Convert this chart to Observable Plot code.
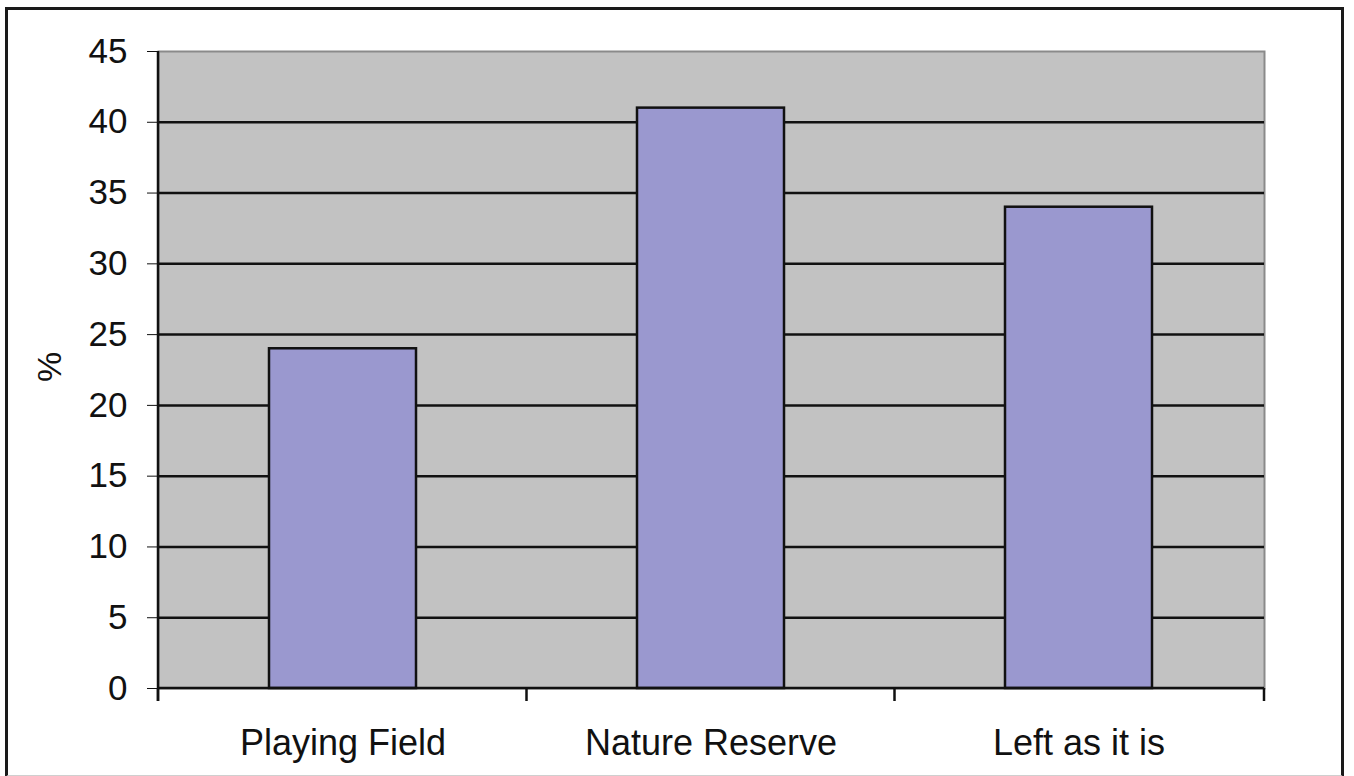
<!DOCTYPE html>
<html>
<head>
<meta charset="utf-8">
<script src="https://cdn.jsdelivr.net/npm/d3@7"></script>
<script src="https://cdn.jsdelivr.net/npm/@observablehq/plot@0.6"></script>
<style>
  html, body { margin: 0; padding: 0; background: #fff; }
  #wrap { position: relative; width: 1354px; height: 776px; overflow: hidden; }
  #border { position: absolute; left: 5px; top: 7px; width: 1339px; height: 770px;
            border: 3px solid #1a1a1a; border-bottom: 2px solid #cfcfcf; box-sizing: border-box; pointer-events: none; }
  #chart { position: absolute; left: 0; top: 0; }
</style>
</head>
<body>
<div id="wrap"><div id="chart"></div><div id="border"></div></div>
<script>
const categories = ["Playing Field", "Nature Reserve", "Left as it is"];
const values = [24, 41, 34];
const yTicks = [0, 5, 10, 15, 20, 25, 30, 35, 40, 45];
const gridValues = [5, 10, 15, 20, 25, 30, 35, 40];
const yLabel = "%";

const data = categories.map((c, i) => ({category: c, value: values[i]}));

function axesMark(index, scales, values_, dims) {
  const x = scales.x;
  const bw = x.bandwidth ? x.bandwidth() : 0;
  const centers = categories.map(c => x(c) + bw / 2);
  const left = dims.marginLeft, right = dims.width - dims.marginRight;
  const top = dims.marginTop, bottom = dims.height - dims.marginBottom;
  const xs = [left, ...d3.pairs(centers).map(([a, b]) => (a + b) / 2), right];
  const g = d3.create("svg:g");
  g.append("line").attr("x1", left).attr("x2", left).attr("y1", top).attr("y2", bottom + 13)
    .attr("stroke", "#111").attr("stroke-width", 2.5);
  g.append("line").attr("x1", left).attr("x2", right).attr("y1", bottom).attr("y2", bottom)
    .attr("stroke", "#111").attr("stroke-width", 2.5);
  g.selectAll("line.sep").data(xs).join("line").attr("class", "sep")
    .attr("x1", d => d).attr("x2", d => d).attr("y1", bottom).attr("y2", bottom + 13)
    .attr("stroke", "#111").attr("stroke-width", 2.5);
  return g.node();
}

const chart = Plot.plot({
  width: 1354,
  height: 776,
  marginLeft: 158,
  marginRight: 90,
  marginTop: 51,
  marginBottom: 88,
  style: {fontFamily: "'Liberation Sans', Arial, sans-serif", color: "#111", background: "transparent"},
  x: {domain: categories, paddingInner: 0.6, paddingOuter: 0.3, label: null, tickSize: 0, tickPadding: 41, fontSize: 36},
  y: {domain: [0, 45], ticks: yTicks, tickSize: 11, tickPadding: 20, label: null, fontSize: 35},
  marks: [
    Plot.frame({fill: "#c2c2c2", stroke: "#8a8a8a", strokeWidth: 2}),
    Plot.ruleY(gridValues, {stroke: "#111", strokeWidth: 2.5}),
    Plot.barY(data, {x: "category", y: "value", fill: "#9a98cf", stroke: "#111", strokeWidth: 2.5}),
    axesMark,
    Plot.text([yLabel], {frameAnchor: "left", dx: -108, dy: 12, rotate: -90, fontSize: 34, fill: "#111", text: d => d})
  ]
});
chart.querySelectorAll("g[aria-label='x-axis tick label'] text, g[aria-label='x-axis'] text").forEach(t => t.style.fontSize = "36px");
chart.querySelectorAll("g[aria-label='y-axis tick label'] text, g[aria-label='y-axis'] text").forEach(t => t.style.fontSize = "35px");
document.getElementById("chart").appendChild(chart);
</script>
</body>
</html>
